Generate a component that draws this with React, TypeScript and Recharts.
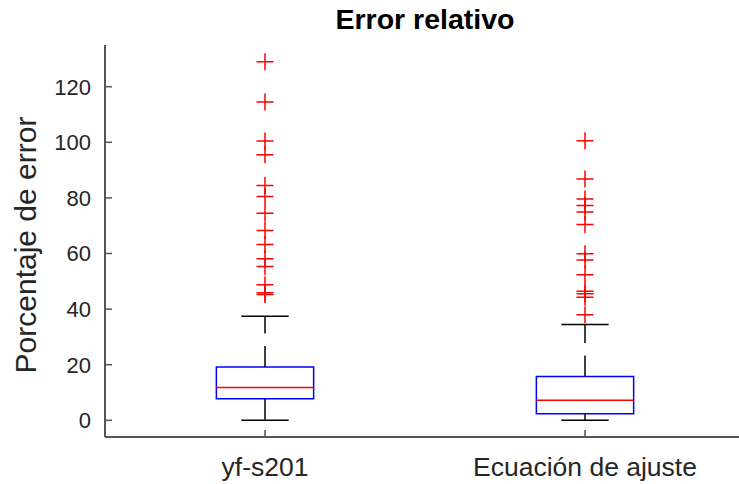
import { ScatterChart, Scatter, XAxis, YAxis, ReferenceArea, ReferenceLine } from 'recharts';

const categories = ['yf-s201', 'Ecuación de ajuste'];
const positions = [1, 2];
const lowerWhisker = [0, 0];
const q1 = [7.8, 2.4];
const median = [11.8, 7.2];
const q3 = [19.2, 15.8];
const upperWhisker = [37.4, 34.5];
const outliersA = [129, 114.5, 100.5, 95.5, 84.5, 80.5, 74.5, 68.3, 63.2, 58.1, 55.3, 48.8, 45.9, 45.3];
const outliersB = [100.6, 86.8, 79.6, 77.3, 74.9, 70.4, 59.9, 57.7, 52.4, 46.4, 45.5, 44.3, 38.0];
const yTicks = [0, 20, 40, 60, 80, 100, 120];

const BOX_HALF = 0.152;
const CAP_HALF = 0.074;
const axisColor = '#555';
const textColor = '#262626';
const font = '"Liberation Sans", Arial, sans-serif';

// MATLAB-style "+" outlier marker
const Plus = (props: any) => {
  const { cx, cy } = props;
  if (cx == null || cy == null) return null;
  return (
    <path
      d={`M${cx - 8.5},${cy}H${cx + 8.5}M${cx},${cy - 8.5}V${cy + 8.5}`}
      stroke="#ff0000"
      strokeWidth={1.5}
      fill="none"
    />
  );
};

const ptsA = outliersA.map((y) => ({ x: positions[0], y }));
const ptsB = outliersB.map((y) => ({ x: positions[1], y }));

export default function App() {
  return (
    <div style={{ position: 'absolute', left: 0, top: 0, width: 739, height: 484, overflow: 'hidden', background: '#fff', fontFamily: font }}>
      <div
        style={{
          position: 'absolute', left: 105, width: 640, top: 5, textAlign: 'center',
          fontSize: 28.5, fontWeight: 'bold', lineHeight: 1, color: '#000', whiteSpace: 'nowrap',
        }}
      >
        Error relativo
      </div>
      <div
        style={{
          position: 'absolute', left: 26, top: 245, transform: 'translate(-50%, -50%) rotate(-90deg)',
          fontSize: 30, lineHeight: 1, color: textColor, whiteSpace: 'nowrap',
        }}
      >
        Porcentaje de error
      </div>
      <ScatterChart width={760} height={484} margin={{ top: 45, right: 15, bottom: 0, left: 0 }}>
        <XAxis
          type="number"
          dataKey="x"
          domain={[0.5, 2.5]}
          ticks={positions}
          tickFormatter={(v: number) => categories[v - 1]}
          height={47}
          tickSize={-7}
          tickMargin={27}
          axisLine={{ stroke: axisColor, strokeWidth: 2 }}
          tickLine={{ stroke: axisColor, strokeWidth: 1.5 }}
          tick={{ fill: textColor, fontSize: 26.5, fontFamily: font }}
        />
        <XAxis
          xAxisId="top"
          orientation="top"
          type="number"
          domain={[0.5, 2.5]}
          ticks={positions}
          tickFormatter={() => ''}
          height={0}
          tickSize={-7}
          axisLine={{ stroke: axisColor, strokeWidth: 2 }}
          tickLine={{ stroke: axisColor, strokeWidth: 1.5 }}
        />
        <YAxis
          type="number"
          dataKey="y"
          domain={[-6, 135]}
          ticks={yTicks}
          width={105}
          tickSize={-7}
          tickMargin={21}
          axisLine={{ stroke: axisColor, strokeWidth: 2 }}
          tickLine={{ stroke: axisColor, strokeWidth: 1.5 }}
          tick={{ fill: textColor, fontSize: 22, fontFamily: font }}
        />
        <YAxis
          yAxisId="right"
          orientation="right"
          type="number"
          domain={[-6, 135]}
          ticks={yTicks}
          width={0}
          tickSize={-7}
          tickFormatter={() => ''}
          axisLine={{ stroke: axisColor, strokeWidth: 2 }}
          tickLine={{ stroke: axisColor, strokeWidth: 1.5 }}
        />
        {positions.map((p, i) => (
          <ReferenceLine
            key={`uw${i}`}
            segment={[{ x: p, y: q3[i] }, { x: p, y: upperWhisker[i] }]}
            stroke="#000"
            strokeWidth={1.5}
            strokeDasharray="21 12.5"
            ifOverflow="visible"
          />
        ))}
        {positions.map((p, i) => (
          <ReferenceLine
            key={`lw${i}`}
            segment={[{ x: p, y: q1[i] }, { x: p, y: lowerWhisker[i] }]}
            stroke="#000"
            strokeWidth={1.5}
            strokeDasharray="21 12.5"
            ifOverflow="visible"
          />
        ))}
        {positions.map((p, i) => (
          <ReferenceLine
            key={`uc${i}`}
            segment={[{ x: p - CAP_HALF, y: upperWhisker[i] }, { x: p + CAP_HALF, y: upperWhisker[i] }]}
            stroke="#000"
            strokeWidth={1.5}
            ifOverflow="visible"
          />
        ))}
        {positions.map((p, i) => (
          <ReferenceLine
            key={`lc${i}`}
            segment={[{ x: p - CAP_HALF, y: lowerWhisker[i] }, { x: p + CAP_HALF, y: lowerWhisker[i] }]}
            stroke="#000"
            strokeWidth={1.5}
            ifOverflow="visible"
          />
        ))}
        {positions.map((p, i) => (
          <ReferenceArea
            key={`box${i}`}
            x1={p - BOX_HALF}
            x2={p + BOX_HALF}
            y1={q1[i]}
            y2={q3[i]}
            fill="#fff"
            fillOpacity={1}
            stroke="#0000ff"
            strokeWidth={1.5}
            ifOverflow="visible"
          />
        ))}
        {positions.map((p, i) => (
          <ReferenceLine
            key={`med${i}`}
            segment={[{ x: p - BOX_HALF, y: median[i] }, { x: p + BOX_HALF, y: median[i] }]}
            stroke="#ff0000"
            strokeWidth={1.5}
            ifOverflow="visible"
          />
        ))}
        <Scatter name={categories[0]} data={ptsA} shape={(p: any) => <Plus {...p} />} isAnimationActive={false} />
        <Scatter name={categories[1]} data={ptsB} shape={(p: any) => <Plus {...p} />} isAnimationActive={false} />
      </ScatterChart>
    </div>
  );
}
